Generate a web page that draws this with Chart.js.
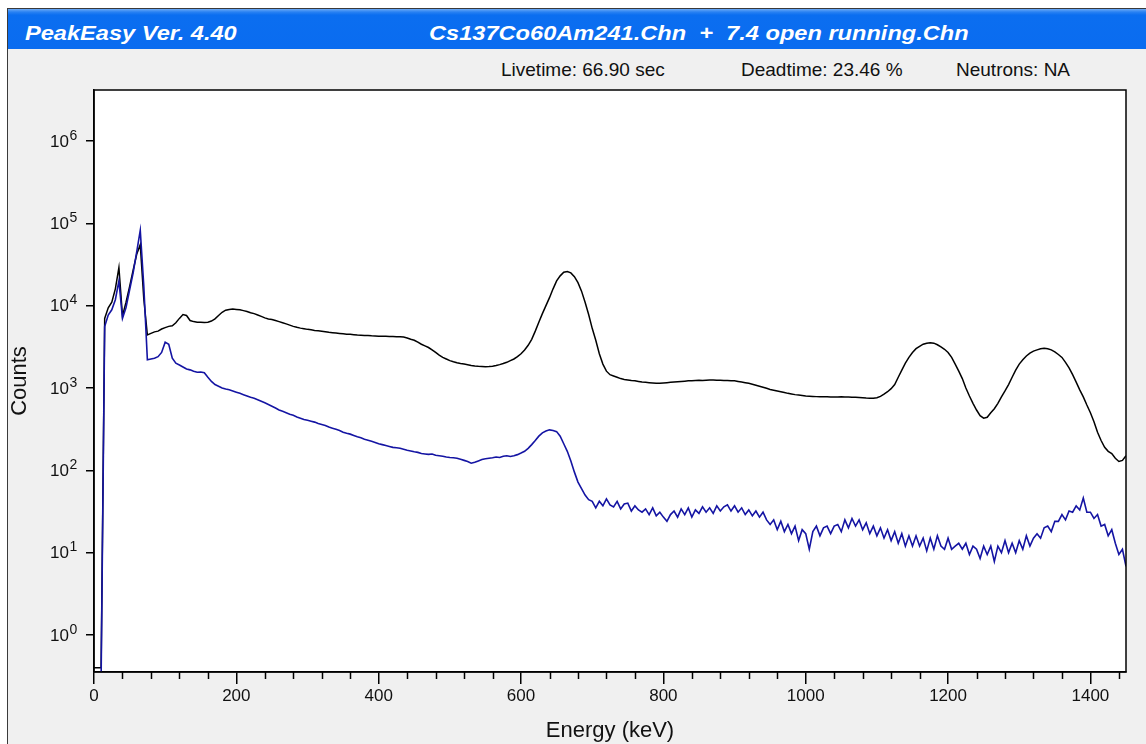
<!DOCTYPE html>
<html>
<head>
<meta charset="utf-8">
<title>PeakEasy spectrum</title>
<script src="https://cdn.jsdelivr.net/npm/chart.js@4.4.1/dist/chart.umd.min.js"></script>
<style>
  html, body { margin: 0; padding: 0; background: #fff; width: 1146px; height: 744px; overflow: hidden; }
  body { position: relative; font-family: Arial, "Liberation Sans", sans-serif; }
  #frame {
    position: absolute; left: 7px; top: 8px; width: 1139px; height: 736px;
    background: #f0f0f0; border-left: 1px solid #3a3a3a; border-top: 1px solid #3a3a3a;
  }
  #bar {
    position: absolute; left: 0; top: 0; width: 100%; height: 40px;
    background: linear-gradient(#6aa9f6 0px, #2a82f2 3px, #0b6ef0 6px, #0a6cf0 100%);
  }
  .ttl {
    position: absolute; top: 13px; line-height: 22px; font-size: 20px; font-weight: bold; font-style: italic;
    color: #fff; white-space: nowrap; transform: scaleX(1.18); transform-origin: left center;
  }
  .stat { position: absolute; top: 50px; line-height: 22px; font-size: 19px; color: #111; white-space: nowrap; }
  #spec { position: absolute; left: 0; top: 0; }
</style>
</head>
<body>
<div id="frame">
  <div id="bar">
    <span class="ttl" style="left:17px">PeakEasy Ver. 4.40</span>
    <span class="ttl" style="left:421px">Cs137Co60Am241.Chn&nbsp; + &nbsp;7.4 open running.Chn</span>
  </div>
  <span class="stat" style="left:493px">Livetime: 66.90 sec</span>
  <span class="stat" style="left:733px">Deadtime: 23.46 %</span>
  <span class="stat" style="left:948px">Neutrons: NA</span>
</div>
<canvas id="spec" width="1146" height="744"></canvas>
<script>
/* ---- Spectrum data (counts per 5 keV channel) ---- */
const KEV_PER_CHANNEL = 5;

// Cs137Co60Am241.Chn (black)
const sourceCounts = [
  0.4, 0.4, 0.4, 7000, 9400, 11000, 16000, 29000, 7500, 11000,          // 0
  17000, 27000, 42000, 55000, 12000, 4400, 4600, 4800, 4900, 5200,      // 50
  5400, 5600, 5700, 6200, 7000, 7800, 7600, 6600, 6400, 6300,           // 100
  6300, 6250, 6300, 6500, 6900, 7600, 8300, 8800, 9000, 9100,           // 150
  9000, 8900, 8700, 8500, 8200, 8000, 7700, 7400, 7100, 6900,           // 200
  6800, 6600, 6400, 6200, 6000, 5800, 5600, 5450, 5330, 5250,           // 250
  5150, 5080, 5000, 4950, 4900, 4820, 4750, 4700, 4650, 4600,           // 300
  4550, 4500, 4480, 4440, 4400, 4380, 4350, 4330, 4300, 4280,           // 350
  4260, 4250, 4240, 4230, 4220, 4200, 4200, 4150, 4050, 3900,           // 400
  3800, 3600, 3400, 3250, 3100, 2900, 2700, 2500, 2350, 2250,           // 450
  2150, 2080, 2020, 1980, 1950, 1920, 1880, 1850, 1830, 1820,           // 500
  1810, 1820, 1840, 1870, 1920, 1980, 2050, 2150, 2250, 2400,           // 550
  2600, 2900, 3300, 3900, 4900, 6300, 8000, 10000, 12500, 16000,        // 600
  20000, 23000, 25500, 26000, 25000, 22500, 19000, 15000, 11000, 7800,  // 650
  5300, 3800, 2600, 1950, 1600, 1450, 1400, 1350, 1300, 1270,           // 700
  1250, 1230, 1220, 1200, 1180, 1170, 1160, 1150, 1140, 1140,           // 750
  1150, 1160, 1170, 1180, 1190, 1200, 1210, 1220, 1220, 1230,           // 800
  1240, 1230, 1240, 1250, 1250, 1240, 1240, 1230, 1230, 1220,           // 850
  1220, 1200, 1180, 1160, 1140, 1110, 1080, 1050, 1020, 990,            // 900
  960, 940, 920, 900, 880, 860, 845, 830, 820, 810,                     // 950
  800, 795, 790, 785, 780, 780, 780, 778, 775, 775,                     // 1000
  780, 778, 775, 772, 770, 765, 760, 755, 752, 750,                     // 1050
  760, 790, 840, 900, 980, 1100, 1350, 1650, 2000, 2350,                // 1100
  2700, 3000, 3200, 3400, 3500, 3550, 3500, 3350, 3150, 2950,           // 1150
  2700, 2350, 1950, 1600, 1300, 1000, 800, 650, 540, 460,               // 1200
  430, 440, 500, 560, 650, 780, 920, 1100, 1350, 1650,                  // 1250
  1950, 2200, 2450, 2650, 2800, 2900, 3000, 3030, 3000, 2900,           // 1300
  2750, 2550, 2350, 2050, 1750, 1450, 1180, 950, 780, 620,              // 1350
  500, 390, 290, 230, 190, 170, 160, 140, 128, 132,                     // 1400
  150                                                                    // 1450
];

// 7.4 open running.Chn (blue)
const runningCounts = [
  0.3, 0.3, 0.3, 5570, 7700, 8900, 11800, 20000, 7000, 9500,            // 0
  15500, 25000, 45000, 82000, 17000, 2200, 2250, 2300, 2400, 2700,      // 50
  3600, 3400, 2300, 2000, 1900, 1800, 1700, 1660, 1600, 1550,           // 100
  1560, 1530, 1350, 1200, 1100, 1050, 1000, 970, 950, 920,              // 150
  890, 860, 830, 800, 770, 750, 720, 690, 660, 630,                     // 200
  600, 570, 540, 520, 500, 480, 465, 445, 430, 415,                     // 250
  405, 395, 385, 370, 360, 350, 335, 325, 315, 305,                     // 300
  290, 282, 275, 265, 255, 248, 238, 232, 225, 218,                     // 350
  210, 205, 200, 195, 190, 188, 185, 180, 175, 172,                     // 400
  168, 165, 160, 158, 156, 158, 152, 150, 148, 145,                     // 450
  143, 142, 140, 136, 132, 128, 122, 125, 130, 135,                     // 500
  138, 140, 142, 145, 143, 148, 150, 147, 150, 155,                     // 550
  162, 170, 185, 205, 230, 260, 285, 300, 310, 305,                     // 600
  295, 260, 210, 170, 130, 95, 72, 60, 50, 44,                          // 650
  42, 35, 42, 37, 45, 38, 36, 42, 34, 39,                               // 700
  40, 32, 37, 33, 31, 34, 29, 35, 28, 31,                               // 750
  27, 24, 29, 32, 27, 34, 29, 35, 27, 33,                               // 800
  30, 36, 31, 35, 30, 37, 32, 36, 38, 32,                               // 850
  37, 31, 35, 29, 33, 28, 32, 27, 31, 25,                               // 900
  22, 25, 19, 24, 18, 22, 17, 21, 14, 19,                               // 950
  17, 11, 18, 21, 16, 20, 21, 17, 21, 22,                               // 1000
  18, 25, 20, 26, 21, 25, 19, 23, 17, 21,                               // 1050
  16, 20, 15, 19, 14, 18, 13, 17, 12, 16,                               // 1100
  12, 16, 12, 15, 10.5, 15, 11, 16, 12, 11,                             // 1150
  15, 11, 12, 13, 11, 13, 9.5, 12, 11, 8.5,                             // 1200
  12, 9.5, 12, 7.8, 12, 10, 14, 10, 13, 10,                             // 1250
  14, 11, 16, 12, 15, 17, 15, 20, 21, 18,                               // 1300
  24, 24, 29, 25, 32, 31, 37, 33, 46, 31,                               // 1350
  31, 26, 29, 21, 22, 16, 19, 13, 9.5, 11,                              // 1400
  6.8                                                                    // 1450
];

const energies = sourceCounts.map((_, i) => i * KEV_PER_CHANNEL);

const xMajorTicks = [0, 200, 400, 600, 800, 1000, 1200, 1400];
const xMinorTicks = [40, 80, 120, 160, 240, 280, 320, 360, 440, 480, 520, 560,
  640, 680, 720, 760, 840, 880, 920, 960, 1040, 1080, 1120, 1160,
  1240, 1280, 1320, 1360, 1440];
const yDecades = [1, 10, 100, 1000, 10000, 100000, 1000000];
const yExponents = ['0', '1', '2', '3', '4', '5', '6'];

const FONT = 'Arial, "Liberation Sans", sans-serif';

function toPoints(counts) {
  return counts.map((c, i) => ({ x: energies[i], y: c }));
}

/* white plot area, full frame box, minor x ticks, 10^n labels */
const framePlugin = {
  id: 'frame',
  beforeDraw(chart) {
    const { ctx, chartArea: a } = chart;
    ctx.save();
    ctx.fillStyle = '#fff';
    ctx.fillRect(a.left, a.top, a.right - a.left, a.bottom - a.top);
    ctx.restore();
  },
  afterDraw(chart) {
    const { ctx, chartArea: a } = chart;
    const xs = chart.scales.x, ys = chart.scales.y;
    ctx.save();
    ctx.strokeStyle = '#000';
    ctx.lineWidth = 1.5;
    ctx.strokeRect(a.left, a.top, a.right - a.left, a.bottom - a.top);
    ctx.beginPath();
    xMinorTicks.forEach(v => {
      const px = Math.round(xs.getPixelForValue(v)) + 0.5;
      ctx.moveTo(px, a.bottom);
      ctx.lineTo(px, a.bottom + 7);
    });
    ctx.stroke();

    ctx.fillStyle = '#111';
    ctx.textBaseline = 'middle';
    yDecades.forEach((v, i) => {
      const py = ys.getPixelForValue(v);
      ctx.font = '17px ' + FONT;
      ctx.textAlign = 'right';
      ctx.fillText('10', 69, py + 1);
      ctx.font = '14px ' + FONT;
      ctx.textAlign = 'left';
      ctx.fillText(yExponents[i], 69.5, py - 5);
    });
    ctx.restore();
  }
};

new Chart(document.getElementById('spec'), {
  type: 'line',
  data: {
    datasets: [{
      label: '7.4 open running.Chn',
      data: toPoints(runningCounts),
      borderColor: '#1414a3',
      borderWidth: 1.6,
      tension: 0,
      pointRadius: 0,
      fill: false,
    }, {
      label: 'Cs137Co60Am241.Chn',
      data: toPoints(sourceCounts),
      borderColor: '#000',
      borderWidth: 1.5,
      tension: 0,
      pointRadius: 0,
      fill: false,
    }]
  },
  options: {
    responsive: false,
    animation: false,
    layout: { padding: { left: 0, top: 90, right: 20, bottom: 0 } },
    plugins: { legend: { display: false }, tooltip: { enabled: false } },
    scales: {
      x: {
        type: 'linear', min: 0, max: 1450,
        afterBuildTicks: s => { s.ticks = xMajorTicks.map(v => ({ value: v })); },
        afterFit: s => { s.height = 72; },
        ticks: { includeBounds: false, color: '#111', font: { family: FONT, size: 17 }, padding: 2, maxRotation: 0,
                 callback: v => String(v) },
        grid: { drawOnChartArea: false, drawTicks: true, tickLength: 12, color: '#000', lineWidth: 1.5 },
        border: { display: true, color: '#000', width: 1.5 },
        title: { display: true, text: 'Energy (keV)', color: '#111', font: { family: FONT, size: 22 }, padding: { top: 0, bottom: 0 } }
      },
      y: {
        type: 'logarithmic', min: 0.355, max: 4.16e6,
        afterBuildTicks: s => { s.ticks = yDecades.map(v => ({ value: v })); },
        afterFit: s => { s.width = 94; },
        ticks: { display: false },
        grid: { drawOnChartArea: false, drawTicks: true, tickLength: 8, color: '#000', lineWidth: 1.5 },
        border: { display: true, color: '#000', width: 1.5 },
        title: { display: true, text: 'Counts', color: '#111', font: { family: FONT, size: 22 }, padding: { top: 7, bottom: 0 } }
      }
    }
  },
  plugins: [framePlugin]
});
</script>
</body>
</html>
